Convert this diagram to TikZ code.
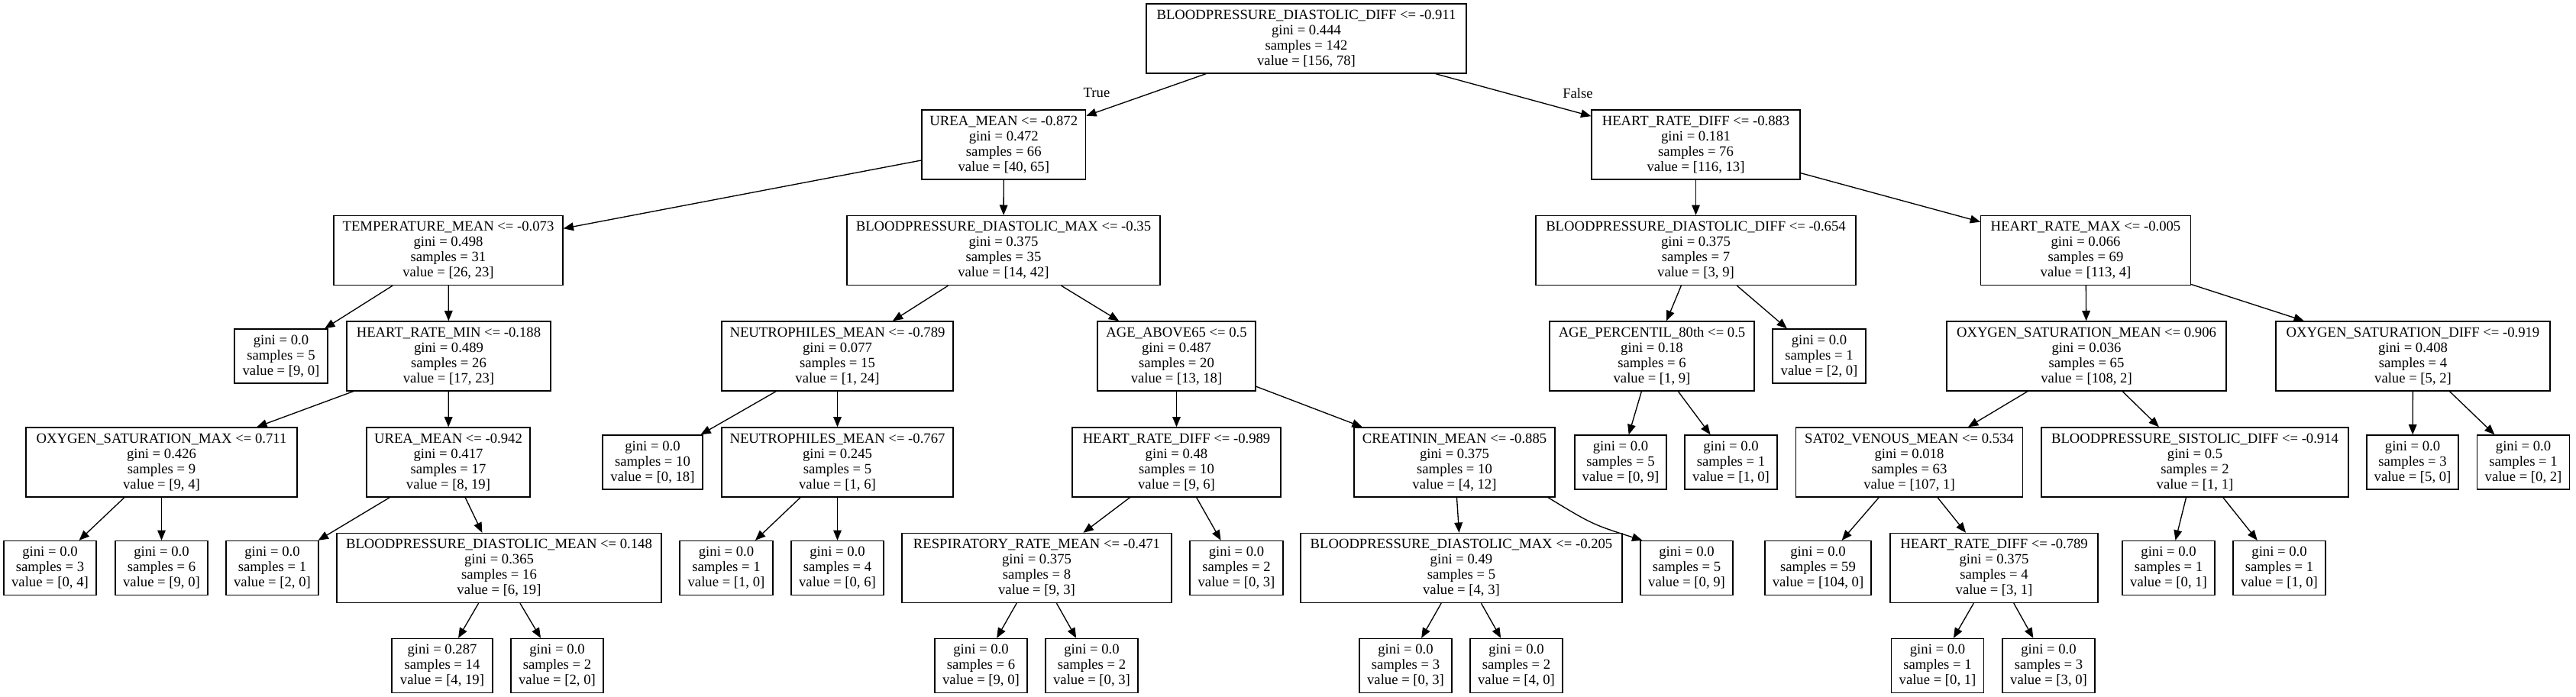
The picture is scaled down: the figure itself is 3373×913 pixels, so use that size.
\documentclass[tikz,border=0pt]{standalone}
\usepackage{fontspec}
\setmainfont{Liberation Serif}
\usetikzlibrary{arrows.meta,calc}
\tikzset{
  base/.style={draw, line width=1pt, fill=white, align=center, inner xsep=1pt, inner ysep=0pt, font=\fontsize{14}{15}\selectfont},
  inode/.style={base, minimum height=68.25pt},
  lnode/.style={base, minimum height=53.25pt},
  bw/.style={minimum width=#1*0.75pt},
  edge/.style={draw, line width=1pt, -{Triangle[length=10pt,width=8pt]}},
  elabel/.style={font=\fontsize{14}{15}\selectfont, inner sep=0pt}
}
\begin{document}
\begin{tikzpicture}[x=0.75pt,y=-0.75pt]
\useasboundingbox (0,0) rectangle (3373,913);
% level 0
\node[inode,bw=419] (n0) at (1710.5,50.5) {BLOODPRESSURE\_DIASTOLIC\_DIFF <= -0.911\\gini = 0.444\\samples = 142\\value = [156, 78]};
% level 1
\node[inode,bw=214.6] (n1) at (1314.3,189.5) {UREA\_MEAN <= -0.872\\gini = 0.472\\samples = 66\\value = [40, 65]};
\node[inode,bw=273] (n2) at (2220.5,189.5) {HEART\_RATE\_DIFF <= -0.883\\gini = 0.181\\samples = 76\\value = [116, 13]};
% level 2
\node[inode,bw=300] (n3) at (587,328) {TEMPERATURE\_MEAN <= -0.073\\gini = 0.498\\samples = 31\\value = [26, 23]};
\node[inode,bw=410] (n4) at (1314,328) {BLOODPRESSURE\_DIASTOLIC\_MAX <= -0.35\\gini = 0.375\\samples = 35\\value = [14, 42]};
\node[inode,bw=419] (n5) at (2220.5,328) {BLOODPRESSURE\_DIASTOLIC\_DIFF <= -0.654\\gini = 0.375\\samples = 7\\value = [3, 9]};
\node[inode,bw=274.5] (n6) at (2731,328) {HEART\_RATE\_MAX <= -0.005\\gini = 0.066\\samples = 69\\value = [113, 4]};
% level 3
\node[lnode,bw=122] (n7) at (368,466.5) {gini = 0.0\\samples = 5\\value = [9, 0]};
\node[inode,bw=267] (n8) at (587.5,466.5) {HEART\_RATE\_MIN <= -0.188\\gini = 0.489\\samples = 26\\value = [17, 23]};
\node[inode,bw=303] (n9) at (1096.5,466.5) {NEUTROPHILES\_MEAN <= -0.789\\gini = 0.077\\samples = 15\\value = [1, 24]};
\node[inode,bw=207] (n10) at (1540.5,466.5) {AGE\_ABOVE65 <= 0.5\\gini = 0.487\\samples = 20\\value = [13, 18]};
\node[inode,bw=268] (n11) at (2163,466.5) {AGE\_PERCENTIL\_80th <= 0.5\\gini = 0.18\\samples = 6\\value = [1, 9]};
\node[lnode,bw=122] (n12) at (2382,466.5) {gini = 0.0\\samples = 1\\value = [2, 0]};
\node[inode,bw=366] (n13) at (2732,466.5) {OXYGEN\_SATURATION\_MEAN <= 0.906\\gini = 0.036\\samples = 65\\value = [108, 2]};
\node[inode,bw=359] (n14) at (3159.5,466.5) {OXYGEN\_SATURATION\_DIFF <= -0.919\\gini = 0.408\\samples = 4\\value = [5, 2]};
% level 4
\node[inode,bw=355] (n15) at (211.5,605.5) {OXYGEN\_SATURATION\_MAX <= 0.711\\gini = 0.426\\samples = 9\\value = [9, 4]};
\node[inode,bw=214] (n16) at (587,605.5) {UREA\_MEAN <= -0.942\\gini = 0.417\\samples = 17\\value = [8, 19]};
\node[lnode,bw=131] (n17) at (854.5,605.5) {gini = 0.0\\samples = 10\\value = [0, 18]};
\node[inode,bw=303] (n18) at (1096.5,605.5) {NEUTROPHILES\_MEAN <= -0.767\\gini = 0.245\\samples = 5\\value = [1, 6]};
\node[inode,bw=273] (n19) at (1540.5,605.5) {HEART\_RATE\_DIFF <= -0.989\\gini = 0.48\\samples = 10\\value = [9, 6]};
\node[inode,bw=263] (n20) at (1904.5,605.5) {CREATININ\_MEAN <= -0.885\\gini = 0.375\\samples = 10\\value = [4, 12]};
\node[lnode,bw=120] (n21) at (2122,605.5) {gini = 0.0\\samples = 5\\value = [0, 9]};
\node[lnode,bw=121] (n22) at (2266.5,605.5) {gini = 0.0\\samples = 1\\value = [1, 0]};
\node[inode,bw=296.5] (n23) at (2500,605.5) {SAT02\_VENOUS\_MEAN <= 0.534\\gini = 0.018\\samples = 63\\value = [107, 1]};
\node[inode,bw=402] (n24) at (2874,605.5) {BLOODPRESSURE\_SISTOLIC\_DIFF <= -0.914\\gini = 0.5\\samples = 2\\value = [1, 1]};
\node[lnode,bw=120] (n25) at (3159,605.5) {gini = 0.0\\samples = 3\\value = [5, 0]};
\node[lnode,bw=120.5] (n26) at (3304,605.5) {gini = 0.0\\samples = 1\\value = [0, 2]};
% level 5
\node[lnode,bw=121] (n27) at (65.5,744) {gini = 0.0\\samples = 3\\value = [0, 4]};
\node[lnode,bw=121] (n28) at (211.5,744) {gini = 0.0\\samples = 6\\value = [9, 0]};
\node[lnode,bw=121] (n29) at (356.5,744) {gini = 0.0\\samples = 1\\value = [2, 0]};
\node[inode,bw=425] (n30) at (653.5,744) {BLOODPRESSURE\_DIASTOLIC\_MEAN <= 0.148\\gini = 0.365\\samples = 16\\value = [6, 19]};
\node[lnode,bw=122] (n31) at (951,744) {gini = 0.0\\samples = 1\\value = [1, 0]};
\node[lnode,bw=121] (n32) at (1096.5,744) {gini = 0.0\\samples = 4\\value = [0, 6]};
\node[inode,bw=353] (n33) at (1357.5,744) {RESPIRATORY\_RATE\_MEAN <= -0.471\\gini = 0.375\\samples = 8\\value = [9, 3]};
\node[lnode,bw=122] (n34) at (1619,744) {gini = 0.0\\samples = 2\\value = [0, 3]};
\node[inode,bw=421] (n35) at (1913.5,744) {BLOODPRESSURE\_DIASTOLIC\_MAX <= -0.205\\gini = 0.49\\samples = 5\\value = [4, 3]};
\node[lnode,bw=121] (n36) at (2208.5,744) {gini = 0.0\\samples = 5\\value = [0, 9]};
\node[lnode,bw=139] (n37) at (2380.5,744) {gini = 0.0\\samples = 59\\value = [104, 0]};
\node[inode,bw=272] (n38) at (2611,744) {HEART\_RATE\_DIFF <= -0.789\\gini = 0.375\\samples = 4\\value = [3, 1]};
\node[lnode,bw=121] (n39) at (2839.5,744) {gini = 0.0\\samples = 1\\value = [0, 1]};
\node[lnode,bw=121] (n40) at (2984.5,744) {gini = 0.0\\samples = 1\\value = [1, 0]};
% level 6
\node[lnode,bw=132] (n41) at (579,872) {gini = 0.287\\samples = 14\\value = [4, 19]};
\node[lnode,bw=121] (n42) at (729.5,872) {gini = 0.0\\samples = 2\\value = [2, 0]};
\node[lnode,bw=121] (n43) at (1284.5,872) {gini = 0.0\\samples = 6\\value = [9, 0]};
\node[lnode,bw=121] (n44) at (1429.5,872) {gini = 0.0\\samples = 2\\value = [0, 3]};
\node[lnode,bw=121] (n45) at (1840.5,872) {gini = 0.0\\samples = 3\\value = [0, 3]};
\node[lnode,bw=121] (n46) at (1985.5,872) {gini = 0.0\\samples = 2\\value = [4, 0]};
\node[lnode,bw=120.5] (n47) at (2537,872) {gini = 0.0\\samples = 1\\value = [0, 1]};
\node[lnode,bw=121] (n48) at (2682.5,872) {gini = 0.0\\samples = 3\\value = [3, 0]};
% edge labels
\node[elabel] (tlab) at (1436,121) {True};
\node[elabel] (flab) at (2066,122) {False};
% edges
\draw[edge] (n0) -- (n1);
\draw[edge] (n0) -- (n2);
\draw[edge] (n1) -- (n3);
\draw[edge] (n1) -- (n4);
\draw[edge] (n2) -- (n5);
\draw[edge] (n2) -- (n6);
\draw[edge] (n3) -- (n7);
\draw[edge] (n3) -- (n8);
\draw[edge] (n8) -- (n15);
\draw[edge] (n8) -- (n16);
\draw[edge] (n15) -- (n27);
\draw[edge] (n15) -- (n28);
\draw[edge] (n16) -- (n29);
\draw[edge] (n16) -- (n30);
\draw[edge] (n30) -- (n41);
\draw[edge] (n30) -- (n42);
\draw[edge] (n4) -- (n9);
\draw[edge] (n4) -- (n10);
\draw[edge] (n9) -- (n17);
\draw[edge] (n9) -- (n18);
\draw[edge] (n18) -- (n31);
\draw[edge] (n18) -- (n32);
\draw[edge] (n10) -- (n19);
\draw[edge] (n10) -- (n20);
\draw[edge] (n19) -- (n33);
\draw[edge] (n19) -- (n34);
\draw[edge] (n33) -- (n43);
\draw[edge] (n33) -- (n44);
\draw[edge] (n20) -- (n35);
\draw[edge] ($(n20.south)+(122.5,0)$) .. controls ($(n20.south)+(180,35)$) .. ($(n36.north west)+(3,0)$);
\draw[edge] (n35) -- (n45);
\draw[edge] (n35) -- (n46);
\draw[edge] (n5) -- (n11);
\draw[edge] (n5) -- (n12);
\draw[edge] (n11) -- (n21);
\draw[edge] (n11) -- (n22);
\draw[edge] (n6) -- (n13);
\draw[edge] (n6) -- (n14);
\draw[edge] (n13) -- (n23);
\draw[edge] (n13) -- (n24);
\draw[edge] (n23) -- (n37);
\draw[edge] (n23) -- (n38);
\draw[edge] (n38) -- (n47);
\draw[edge] (n38) -- (n48);
\draw[edge] (n24) -- (n39);
\draw[edge] (n24) -- (n40);
\draw[edge] (n14) -- (n25);
\draw[edge] (n14) -- (n26);
\end{tikzpicture}
\end{document}
